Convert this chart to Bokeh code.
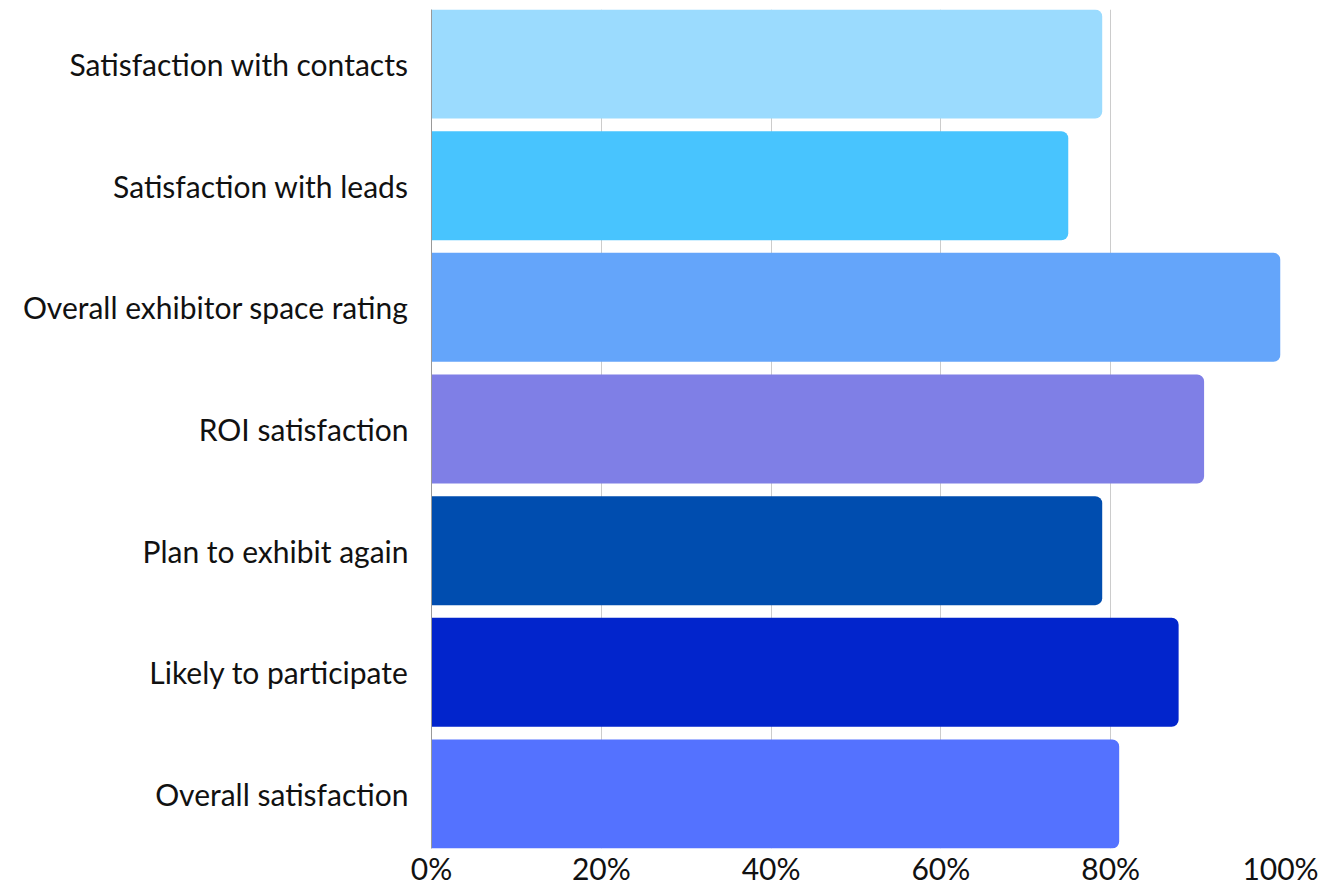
from bokeh.plotting import figure
from bokeh.models import ColumnDataSource, Range1d, FixedTicker, NumeralTickFormatter
from bokeh.embed import file_html
from bokeh.resources import INLINE

categories = [
    "Satisfaction with contacts",
    "Satisfaction with leads",
    "Overall exhibitor space rating",
    "ROI satisfaction",
    "Plan to exhibit again",
    "Likely to participate",
    "Overall satisfaction",
]
values = [0.79, 0.75, 1.00, 0.91, 0.79, 0.88, 0.81]
colors = ["#9BDBFE", "#48C4FE", "#64A5FA", "#7F7FE6", "#004DAF", "#0225CC", "#5472FF"]
x_ticks = [0, 0.2, 0.4, 0.6, 0.8, 1.0]

n = len(categories)
# top category at the top
ypos = [n - 1 - i for i in range(n)]
bar_h = 0.896

src = ColumnDataSource(dict(y=ypos, v=values, c=colors, cat=categories))

FONT = "Lato"
p = figure(width=1335, height=889, output_backend="svg", toolbar_location=None,
           x_range=Range1d(0, 1.0), y_range=Range1d(-bar_h / 2, n - 1 + bar_h / 2),
           min_border_left=431, min_border_right=55, min_border_top=9, min_border_bottom=41)
p.outline_line_color = None
p.background_fill_color = "white"
p.border_fill_color = "white"

p.hbar(y="y", left=0, right="v", height=bar_h, fill_color="c", line_color=None,
       border_radius=(0, 7, 7, 0), source=src)

p.xaxis.ticker = FixedTicker(ticks=x_ticks)
p.xaxis.formatter = NumeralTickFormatter(format="0%")
p.xaxis.axis_line_color = None
p.xaxis.major_tick_line_color = None
p.xaxis.minor_tick_line_color = None
p.xaxis.major_tick_out = 0
p.xaxis.major_tick_in = 0
p.xaxis.major_label_standoff = 1
p.xaxis.major_label_text_font = FONT
p.xaxis.major_label_text_font_size = "30px"
p.xaxis.major_label_text_color = "#111111"

p.yaxis.ticker = FixedTicker(ticks=ypos)
p.yaxis.major_label_overrides = {y: c for y, c in zip(ypos, categories)}
p.yaxis.axis_line_color = "#999999"
p.yaxis.axis_line_width = 1
p.yaxis.major_tick_line_color = None
p.yaxis.minor_tick_line_color = None
p.yaxis.major_tick_out = 0
p.yaxis.major_tick_in = 0
p.yaxis.major_label_standoff = 23
p.yaxis.major_label_text_font = FONT
p.yaxis.major_label_text_font_size = "30px"
p.yaxis.major_label_text_color = "#111111"

p.xgrid.ticker = FixedTicker(ticks=[0.2, 0.4, 0.6, 0.8, 1.0])
p.xgrid.grid_line_color = "#CCCCCC"
p.xgrid.grid_line_width = 1
p.ygrid.grid_line_color = None
p.xgrid.level = "underlay"

open("out.html", "w").write(file_html(p, INLINE))
